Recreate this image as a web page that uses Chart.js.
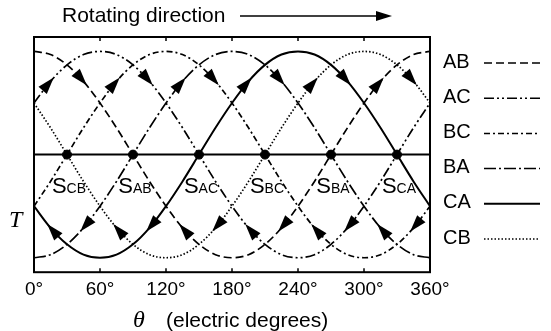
<!DOCTYPE html>
<html>
<head>
<meta charset="utf-8">
<script src="https://cdn.jsdelivr.net/npm/chart.js@4"></script>
<style>
  html, body { margin: 0; padding: 0; background: #fff; }
  #wrap { width: 551px; height: 331px; }
</style>
</head>
<body>
<div id="wrap"><canvas id="torqueChart"></canvas></div>
<script>
// rotor angle in electric degrees, sampled every 15°
const theta = [0, 15, 30, 45, 60, 75, 90, 105, 120, 135, 150, 165, 180, 195, 210, 225, 240, 255, 270, 285, 300, 315, 330, 345, 360];

// torque per excited phase pair (normalised)
const torqueAB = [1, 0.97, 0.87, 0.71, 0.5, 0.26, 0, -0.26, -0.5, -0.71, -0.87, -0.97, -1, -0.97, -0.87, -0.71, -0.5, -0.26, 0, 0.26, 0.5, 0.71, 0.87, 0.97, 1];
const torqueAC = [0.5, 0.71, 0.87, 0.97, 1, 0.97, 0.87, 0.71, 0.5, 0.26, 0, -0.26, -0.5, -0.71, -0.87, -0.97, -1, -0.97, -0.87, -0.71, -0.5, -0.26, 0, 0.26, 0.5];
const torqueBC = [-0.5, -0.26, 0, 0.26, 0.5, 0.71, 0.87, 0.97, 1, 0.97, 0.87, 0.71, 0.5, 0.26, 0, -0.26, -0.5, -0.71, -0.87, -0.97, -1, -0.97, -0.87, -0.71, -0.5];
const torqueBA = [-1, -0.97, -0.87, -0.71, -0.5, -0.26, 0, 0.26, 0.5, 0.71, 0.87, 0.97, 1, 0.97, 0.87, 0.71, 0.5, 0.26, 0, -0.26, -0.5, -0.71, -0.87, -0.97, -1];
const torqueCA = [-0.5, -0.71, -0.87, -0.97, -1, -0.97, -0.87, -0.71, -0.5, -0.26, 0, 0.26, 0.5, 0.71, 0.87, 0.97, 1, 0.97, 0.87, 0.71, 0.5, 0.26, 0, -0.26, -0.5];
const torqueCB = [0.5, 0.26, 0, -0.26, -0.5, -0.71, -0.87, -0.97, -1, -0.97, -0.87, -0.71, -0.5, -0.26, 0, 0.26, 0.5, 0.71, 0.87, 0.97, 1, 0.97, 0.87, 0.71, 0.5];

const phaseNames = ['AB', 'AC', 'BC', 'BA', 'CA', 'CB'];
const phaseTorques = [torqueAB, torqueAC, torqueBC, torqueBA, torqueCA, torqueCB];

// stable points on the zero-torque line
const stableAngles = [30, 90, 150, 210, 270, 330];
const stableNames = ['CB', 'AB', 'AC', 'BC', 'BA', 'CA'];

// direction arrows: forward on the upper half, backward on the lower half
const arrowAngles = [15, 45, 75, 105, 135, 165, 195, 225, 255, 285, 315, 345];
const upperArrowPhases = ['AC', 'AB', 'BC', 'AC', 'BA', 'BC', 'CA', 'BA', 'CB', 'CA', 'AB', 'CB'];
const lowerArrowPhases = ['CA', 'BA', 'CB', 'CA', 'AB', 'CB', 'AC', 'AB', 'BC', 'AC', 'BA', 'BC'];

// line styles
const dashes = {
  AB: [8, 4],
  AC: [10, 3, 2, 3, 2, 3],
  BC: [6, 3, 2, 3],
  BA: [12, 3, 2, 3],
  CA: [],
  CB: [1.5, 2]
};
const SANS = '"Liberation Sans", Arial, sans-serif';
const SERIF = '"Liberation Serif", "Times New Roman", serif';

const datasets = phaseNames.map((name, k) => ({
  label: name,
  data: phaseTorques[k].map((v, i) => ({ x: theta[i], y: v })),
  borderColor: '#000',
  borderWidth: name === 'CA' ? 2 : 1.7,
  borderDash: dashes[name],
  pointRadius: 0,
  cubicInterpolationMode: 'monotone',
  fill: false
}));

datasets.push({
  label: 'zero',
  data: [{ x: 0, y: 0 }, { x: 360, y: 0 }],
  borderColor: '#000',
  borderWidth: 2,
  pointRadius: 0
});

datasets.push({
  label: 'stable',
  data: stableAngles.map(a => ({ x: a, y: 0 })),
  showLine: false,
  pointRadius: 4.5,
  pointBackgroundColor: '#000',
  pointBorderColor: '#000'
});

const decorations = {
  id: 'decorations',
  afterDatasetsDraw(chart) {
    const { ctx, chartArea: area, scales: { x, y } } = chart;
    ctx.save();
    ctx.strokeStyle = '#000';
    ctx.fillStyle = '#000';
    ctx.setLineDash([]);

    // frame + inward ticks
    ctx.lineWidth = 2;
    ctx.strokeRect(area.left, area.top, area.right - area.left, area.bottom - area.top);
    ctx.lineWidth = 1.5;
    x.ticks.forEach(t => {
      const px = x.getPixelForValue(t.value);
      ctx.beginPath();
      ctx.moveTo(px, area.top); ctx.lineTo(px, area.top + 4);
      ctx.moveTo(px, area.bottom); ctx.lineTo(px, area.bottom - 4);
      ctx.stroke();
    });

    // arrowheads along the curves
    const head = (tipX, tipY, ang, len, half) => {
      const ux = Math.cos(ang), uy = Math.sin(ang);
      const bx = tipX - ux * len, by = tipY - uy * len;
      ctx.beginPath();
      ctx.moveTo(tipX, tipY);
      ctx.lineTo(bx - uy * half, by + ux * half);
      ctx.lineTo(bx + uy * half, by - ux * half);
      ctx.closePath();
      ctx.fill();
    };
    const drawArrow = (phase, angle, dir) => {
      const meta = chart.getDatasetMeta(phaseNames.indexOf(phase));
      const j = theta.indexOf(angle);
      const p = meta.data[j], a = meta.data[j - 1], b = meta.data[j + 1];
      let ang = Math.atan2(b.y - a.y, b.x - a.x);
      if (dir < 0) ang += Math.PI;
      head(p.x + Math.cos(ang) * 5, p.y + Math.sin(ang) * 5, ang, 17, 5.5);
    };
    arrowAngles.forEach((a, i) => {
      drawArrow(upperArrowPhases[i], a, 1);
      drawArrow(lowerArrowPhases[i], a, -1);
    });

    // stable point labels
    ctx.textBaseline = 'alphabetic';
    ctx.textAlign = 'left';
    stableAngles.forEach((a, i) => {
      const px = x.getPixelForValue(a);
      const py = y.getPixelForValue(0);
      ctx.font = '22px ' + SANS;
      const sw = ctx.measureText('S').width;
      ctx.font = '14px ' + SANS;
      const subw = ctx.measureText(stableNames[i]).width;
      const left = px + 2 - (sw + subw) / 2;
      ctx.font = '22px ' + SANS;
      ctx.fillText('S', left, py + 38);
      ctx.font = '14px ' + SANS;
      ctx.fillText(stableNames[i], left + sw, py + 38);
    });

    // legend
    ctx.font = '20px ' + SANS;
    ctx.textBaseline = 'middle';
    phaseNames.forEach((name, i) => {
      const ly = 62 + i * 35.2;
      ctx.fillText(name, area.right + 13, ly);
      ctx.setLineDash(dashes[name]);
      ctx.lineWidth = name === 'CA' ? 2 : 1.5;
      ctx.beginPath();
      ctx.moveTo(area.right + 54, ly + 1);
      ctx.lineTo(area.right + 110, ly + 1);
      ctx.stroke();
    });
    ctx.setLineDash([]);

    // title with rotating-direction arrow
    ctx.font = '21px ' + SANS;
    ctx.fillText('Rotating direction', 62, 16);
    ctx.lineWidth = 1.6;
    ctx.beginPath();
    ctx.moveTo(240, 16); ctx.lineTo(380, 16);
    ctx.stroke();
    head(392, 16, 0, 16, 5);

    // axis titles
    ctx.font = 'italic 24px ' + SERIF;
    ctx.fillText('T', 9, 221);
    ctx.fillText('\u03b8', 133, 321);
    ctx.font = '21px ' + SANS;
    ctx.fillText('(electric degrees)', 166, 321);

    ctx.restore();
  }
};

new Chart(document.getElementById('torqueChart'), {
  type: 'line',
  data: { datasets },
  options: {
    responsive: true,
    maintainAspectRatio: false,
    animation: false,
    events: [],
    layout: { padding: { left: 34, top: 37, right: 121, bottom: 24 } },
    plugins: { legend: { display: false }, tooltip: { enabled: false } },
    scales: {
      x: {
        type: 'linear',
        min: 0,
        max: 360,
        grid: { display: false, drawTicks: false },
        border: { display: false },
        ticks: {
          stepSize: 60,
          padding: 6,
          color: '#000',
          font: { family: SANS, size: 19 },
          callback: v => v + '\u00b0'
        }
      },
      y: { type: 'linear', min: -1.14, max: 1.14, display: false }
    }
  },
  plugins: [decorations]
});
</script>
</body>
</html>
